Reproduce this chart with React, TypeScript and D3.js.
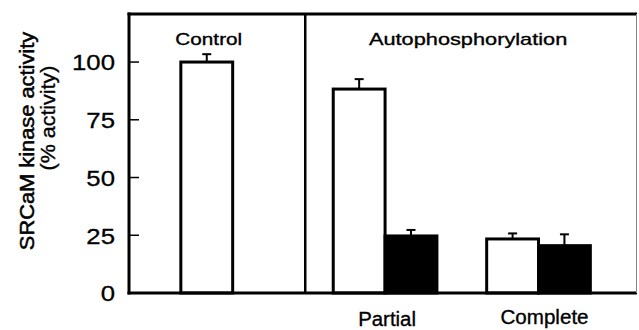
import * as d3 from "d3";

// data
const groups = ["Control", "Partial", "Complete"];
const openValues = [100, 88.3, 23.4];
const openErrors = [3.4, 4.3, 2.4];
const filledValues: (number | null)[] = [null, 24.7, 20.5];
const filledErrors: (number | null)[] = [null, 2.6, 4.9];
const yTicks = [0, 25, 50, 75, 100];
const panelLabels = ["Control", "Autophosphorylation"];

const W = 639;
const H = 330;
const margin = { top: 14, right: 2, bottom: 37, left: 129 };

// layout, in bar-width slots
const slotOf: Record<string, number> = { Control: 1, Partial: 3.94, Complete: 6.9 };
const dividerSlot = 3.4;
const FONT = "'Liberation Sans', Arial, Helvetica, sans-serif";

// scanned type looks wide and heavy: stretch horizontally, add a thin stroke
function Label({
  x, y, size, sx = 1.15, rotate = 0, anchor = "middle", dy = "0", weight = 0.35, children,
}: {
  x: number; y: number; size: number; sx?: number; rotate?: number;
  anchor?: string; dy?: string; weight?: number; children: React.ReactNode;
}) {
  return (
    <text
      transform={`translate(${x},${y}) rotate(${rotate}) scale(${sx},1)`}
      textAnchor={anchor}
      dy={dy}
      fontSize={size}
      fill="#000"
      stroke="#000"
      strokeWidth={weight}
    >
      {children}
    </text>
  );
}

export default function App() {
  const x0 = margin.left;
  const x1 = W - margin.right;
  const yBottom = H - margin.bottom;

  const x = d3.scaleLinear().domain([0, 9.8]).range([x0, x1]);
  const y = d3.scaleLinear().domain([0, 120.8]).range([yBottom, margin.top]);
  const bw = x(1) - x(0);
  const xDiv = x(dividerSlot);

  const errBar = (cx: number, v: number, e: number, key: string) => (
    <g key={key} stroke="#000" strokeWidth={2}>
      <line x1={cx} x2={cx} y1={y(v)} y2={y(v + e)} />
      <line x1={cx - 4.5} x2={cx + 4.5} y1={y(v + e)} y2={y(v + e)} />
    </g>
  );

  return (
    <svg
      width={W}
      height={H}
      style={{ position: "absolute", left: 0, top: 0, background: "#fff" }}
      fontFamily={FONT}
    >
      {/* bars */}
      {groups.map((g, i) => {
        const s = slotOf[g];
        const xa = x(s);
        const out = [
          <rect
            key={g + "o"}
            x={xa}
            y={y(openValues[i])}
            width={bw}
            height={yBottom - y(openValues[i])}
            fill="#fff"
            stroke="#000"
            strokeWidth={3}
          />,
          errBar(xa + bw / 2, openValues[i], openErrors[i], g + "oe"),
        ];
        const fv = filledValues[i];
        const fe = filledErrors[i];
        if (fv != null) {
          const xb = x(s + 1);
          out.push(
            <rect
              key={g + "f"}
              x={xb}
              y={y(fv)}
              width={bw}
              height={yBottom - y(fv)}
              fill="#000"
              stroke="#000"
              strokeWidth={3}
            />,
          );
          if (fe != null) out.push(errBar(xb + bw / 2, fv, fe, g + "fe"));
        }
        return <g key={g}>{out}</g>;
      })}

      {/* frame */}
      <line x1={x0} x2={x0} y1={margin.top - 1.5} y2={yBottom + 1.5} stroke="#000" strokeWidth={3} />
      <line x1={x0 - 1.5} x2={x1} y1={yBottom} y2={yBottom} stroke="#000" strokeWidth={3} />
      <line x1={x0 - 1.5} x2={x1} y1={margin.top} y2={margin.top} stroke="#000" strokeWidth={3} />
      <line x1={x1 - 0.5} x2={x1 - 0.5} y1={margin.top} y2={yBottom} stroke="#888" strokeWidth={1} />
      <line x1={xDiv} x2={xDiv} y1={margin.top} y2={yBottom} stroke="#000" strokeWidth={2.5} />

      {/* y ticks */}
      {yTicks.map((t) => (
        <g key={t}>
          <line x1={x0} x2={x0 + 10} y1={y(t)} y2={y(t)} stroke="#000" strokeWidth={1.5} />
          <Label x={x0 - 14} y={y(t)} dy="0.36em" anchor="end" size={23} sx={1.12} weight={0.3}>
            {t}
          </Label>
        </g>
      ))}

      {/* panel labels */}
      <Label x={x(slotOf.Control + 0.5) + 2} y={45} size={17} sx={1.22}>
        {panelLabels[0]}
      </Label>
      <Label x={(xDiv + x1) / 2 - 3} y={45} size={17} sx={1.28}>
        {panelLabels[1]}
      </Label>

      {/* group labels */}
      <Label x={x(slotOf.Partial + 1) + 2} y={326} size={20} sx={1.02}>
        {groups[1]}
      </Label>
      <Label x={x(slotOf.Complete + 1) + 6} y={324} size={20} sx={1.03}>
        {groups[2]}
      </Label>

      {/* y title */}
      <Label x={27} y={141} rotate={-90} dy="0.35em" size={19.5} sx={1.12} weight={0.5}>
        SRCaM kinase activity
      </Label>
      <Label x={48} y={118} rotate={-90} dy="0.35em" size={19.5} sx={1.1} weight={0.35}>
        (% activity)
      </Label>
    </svg>
  );
}
